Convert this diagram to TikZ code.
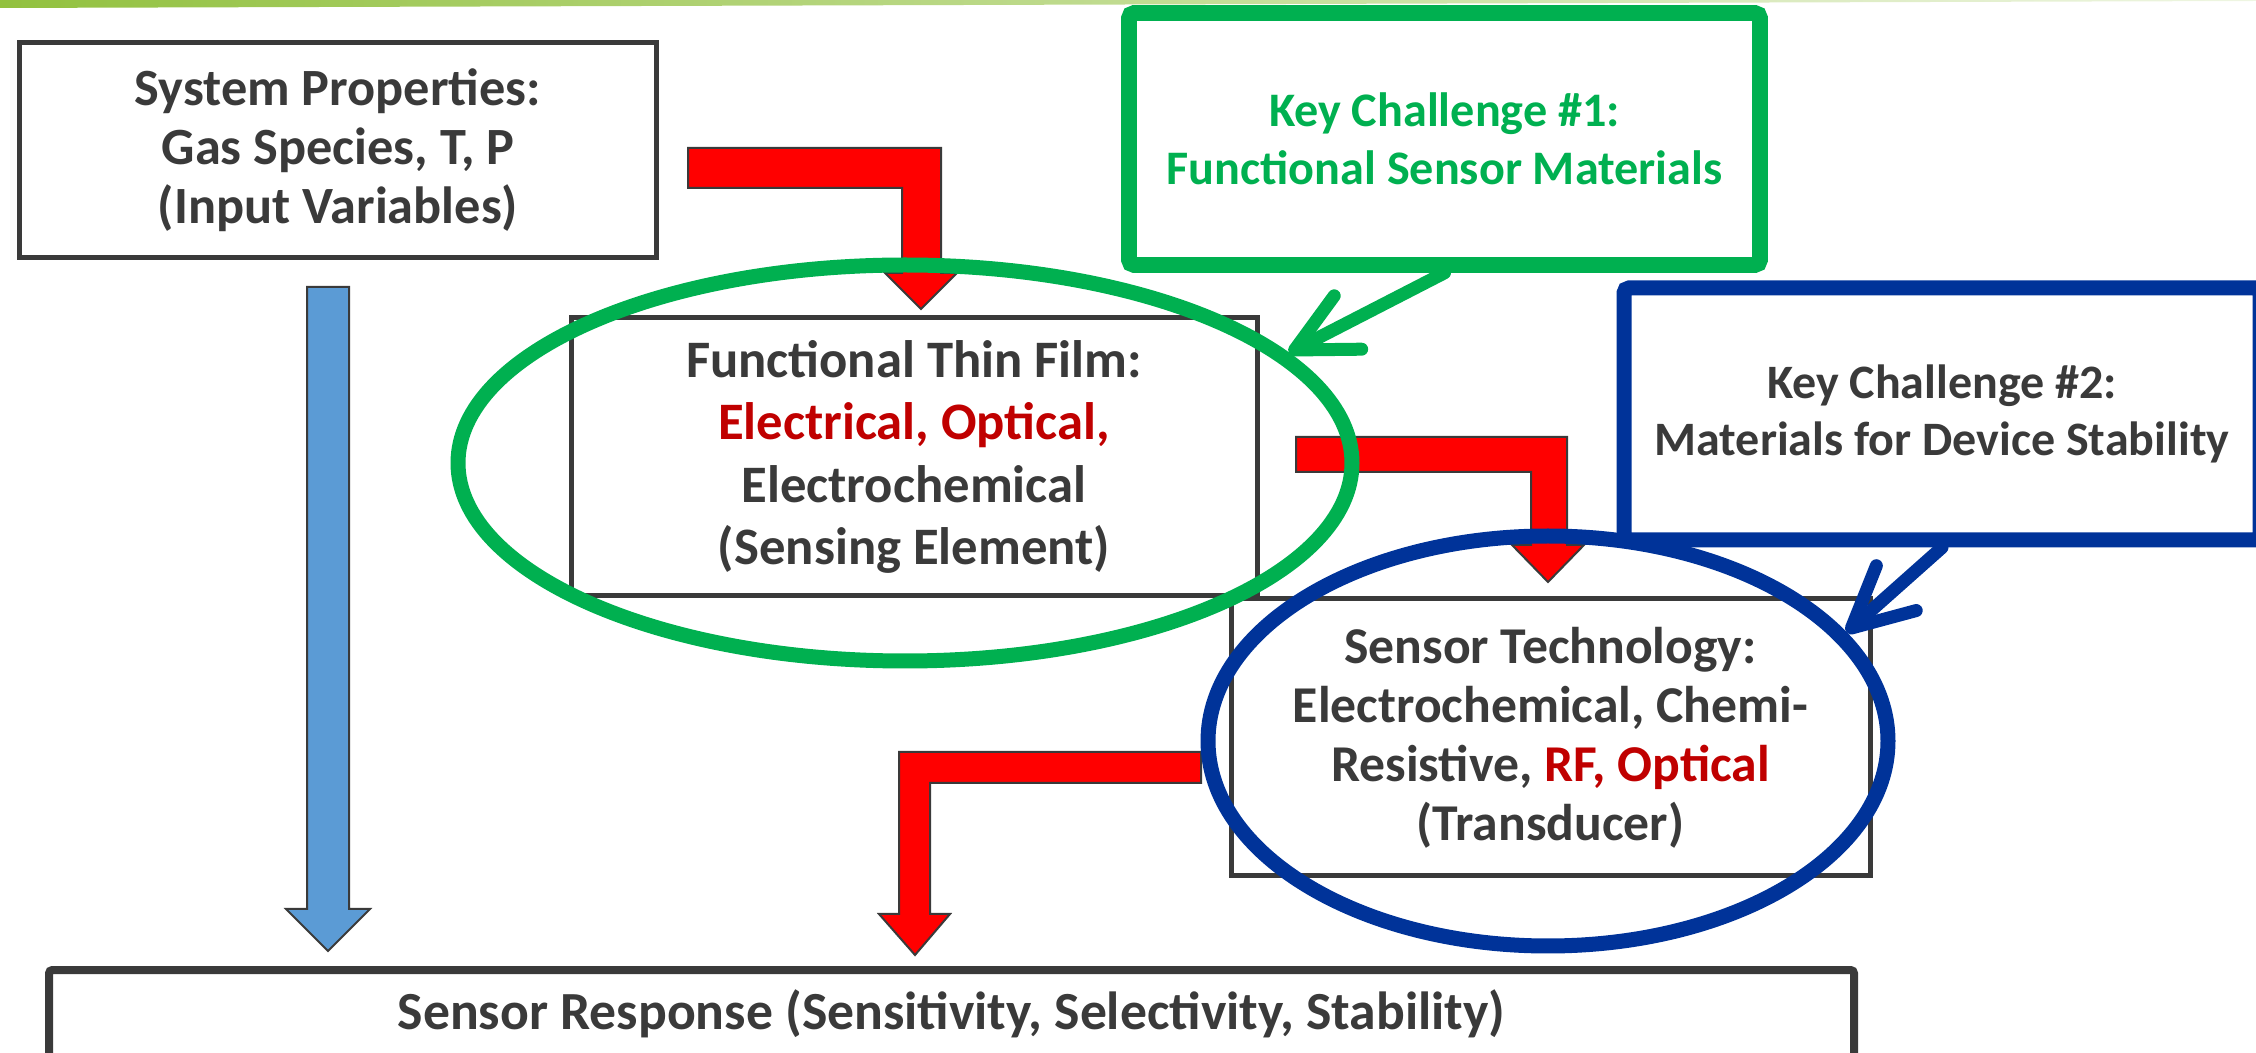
\documentclass[tikz,border=0pt]{standalone}
\usepackage{fontspec}
\setmainfont{Carlito}
\usetikzlibrary{shapes.geometric,arrows.meta}
\definecolor{textgray}{HTML}{3A3A3A}
\definecolor{keygreen}{HTML}{00B050}
\definecolor{keyblue}{HTML}{003399}
\definecolor{hotred}{HTML}{C00000}
\definecolor{arrowred}{HTML}{FF0000}
\definecolor{arrowblue}{HTML}{5B9BD5}
\definecolor{headgreen}{HTML}{92C13F}

\begin{document}
\begin{tikzpicture}[x=0.3pt, y=-0.3pt,
  box/.style={draw=textgray, line width=1.5pt, text=textgray, align=center, inner sep=2pt},
  keybox/.style={draw=#1, line width=4.7pt, rounded corners=1.5pt, align=center, inner sep=2pt},
  ring/.style={draw=#1, ellipse, line width=4.5pt, inner sep=0pt},
  blockarrow/.style={draw=textgray, line width=0.6pt, fill=#1},
  callout/.style={draw=#1, line width=3.9pt, line cap=round, -{Straight Barb[length=18pt, width=18pt, round]}}]
\clip (0,0) rectangle (2256,1053);

% Header line
\shade[left color=headgreen, right color=headgreen!15] (0,0) -- (2256,0) -- (2256,1) -- (0,8) -- cycle;

% Boxes
\node[box, minimum width=191.1pt, minimum height=64.5pt, font=\bfseries\fontsize{15.7}{17.7}\selectfont] (sys) at (338,150)
  {System Properties:\\Gas Species, T, P\\(Input Variables)};
\node[box, minimum width=205.8pt, minimum height=83.4pt, font=\bfseries\fontsize{15.8}{18.7}\selectfont] (film) at (914,457)
  {Functional Thin Film:\\\textcolor{hotred}{Electrical, Optical,}\\Electrochemical\\(Sensing Element)};
\node[box, minimum width=191.7pt, minimum height=83.1pt, font=\bfseries\fontsize{15.5}{17.7}\selectfont] (tech) at (1550.5,737.5)
  {Sensor Technology:\\Electrochemical, Chemi-\\Resistive, \textcolor{hotred}{RF, Optical}\\(Transducer)};
\node[box, line width=2.4pt, rounded corners=1pt, minimum width=541.5pt, minimum height=26.4pt, font=\bfseries\fontsize{16.1}{17.7}\selectfont] (resp) at (951.5,1014)
  {Sensor Response (Sensitivity, Selectivity, Stability)};
\node[keybox=keygreen, text=keygreen, minimum width=189.3pt, minimum height=75.6pt, font=\bfseries\fontsize{14.45}{17.4}\selectfont] (kc1) at (1444.5,139)
  {Key Challenge \#1:\\Functional Sensor Materials};
\node[keybox=keyblue, line width=4.5pt, text=textgray, minimum width=190.8pt, minimum height=75.6pt, font=\bfseries\fontsize{14.4}{17.1}\selectfont] (kc2) at (1942,414)
  {Key Challenge \#2:\\Materials for Device Stability};

% Block arrows
\draw[blockarrow=arrowblue] (307,287) -- (349,287) -- (349,909) -- (370,909) -- (328,951) -- (286,909) -- (307,909) -- cycle;
\draw[blockarrow=arrowred] (688,148) -- (941,148) -- (941,273) -- (957,273) -- (921,309) -- (885,273) -- (902,273) -- (902,188) -- (688,188) -- cycle;
\draw[blockarrow=arrowred] (1296,437) -- (1567,437) -- (1567,545) -- (1584,545) -- (1548,582) -- (1512,545) -- (1531,545) -- (1531,472) -- (1296,472) -- cycle;
\draw[blockarrow=arrowred] (1201,752) -- (899,752) -- (899,914) -- (879,914) -- (915,955) -- (950,914) -- (930,914) -- (930,783) -- (1201,783) -- cycle;

% Highlight rings
\node[ring=keygreen, minimum width=268.2pt, minimum height=118.8pt] (film ring) at (905,463) {};
\node[ring=keyblue, minimum width=204pt, minimum height=123pt] (tech ring) at (1548,741) {};

% Callouts
\draw[callout=keygreen] (kc1.south) -- (film ring.16);
\draw[callout=keyblue] (kc2.south) -- (tech ring.20);
\end{tikzpicture}
\end{document}
